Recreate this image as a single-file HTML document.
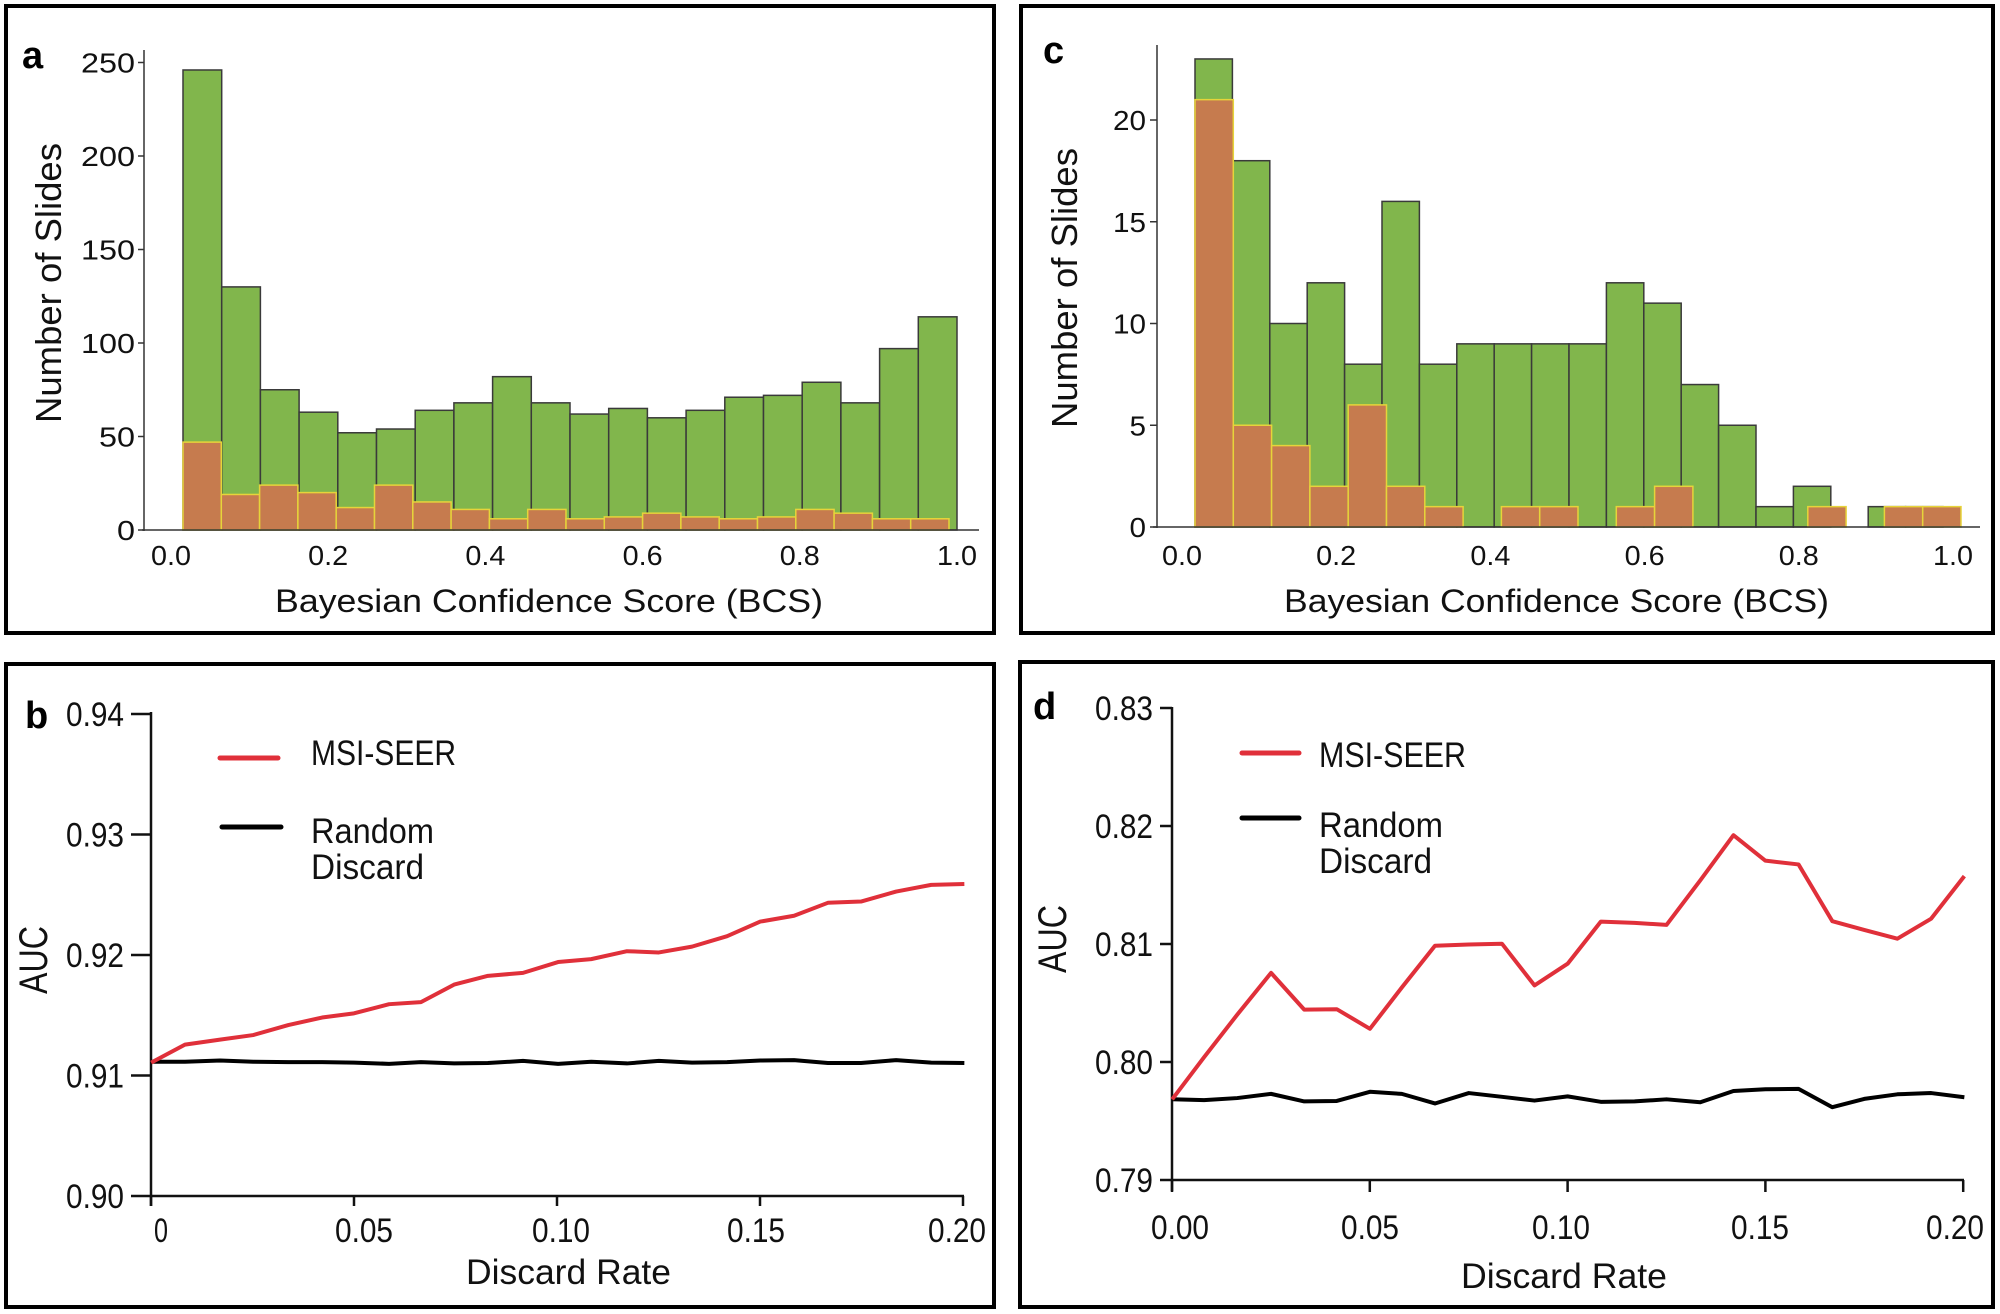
<!DOCTYPE html>
<html><head><meta charset="utf-8">
<style>
html,body{margin:0;padding:0;background:#fff;}
svg{display:block;}
text{font-family:"Liberation Sans",sans-serif;fill:#111;}
</style></head>
<body>
<svg id="s" width="2000" height="1314" viewBox="0 0 2000 1314" xmlns="http://www.w3.org/2000/svg">
<rect width="2000" height="1314" fill="#fff"/>
<!-- panel borders -->
<rect x="6" y="6" width="988" height="627" fill="none" stroke="#000" stroke-width="4"/>
<rect x="1021" y="6" width="972" height="627" fill="none" stroke="#000" stroke-width="4"/>
<rect x="6" y="664" width="988" height="643" fill="none" stroke="#000" stroke-width="4"/>
<rect x="1020" y="662" width="973" height="645" fill="none" stroke="#000" stroke-width="4"/>

<g id="bars"></g>

<!-- Panel a axes -->
<g stroke="#333" stroke-width="1.5">
<line x1="144" y1="50" x2="144" y2="531"/>
<line x1="142" y1="530" x2="979" y2="530"/>
<line x1="1157" y1="45" x2="1157" y2="528"/>
<line x1="1153" y1="527" x2="1980" y2="527"/>
</g>
<g id="atk" stroke="#333" stroke-width="1.5"></g>
<text x="22" y="68" font-size="38" font-weight="bold" style="fill:#000">a</text>
<text x="1043" y="63" font-size="38" font-weight="bold" style="fill:#000">c</text>
<text x="25" y="728" font-size="38" font-weight="bold" style="fill:#000">b</text>
<text x="1033" y="719" font-size="38" font-weight="bold" style="fill:#000">d</text>

<text transform="translate(61,283) rotate(-90)" text-anchor="middle" font-size="36" textLength="280" lengthAdjust="spacingAndGlyphs">Number of Slides</text>
<text transform="translate(1077,288) rotate(-90)" text-anchor="middle" font-size="36" textLength="280" lengthAdjust="spacingAndGlyphs">Number of Slides</text>
<text x="275" y="612" font-size="32" textLength="548" lengthAdjust="spacingAndGlyphs">Bayesian Confidence Score (BCS)</text>
<text x="1284" y="612" font-size="32" textLength="545" lengthAdjust="spacingAndGlyphs">Bayesian Confidence Score (BCS)</text>

<!-- Panel b -->
<g stroke="#111" stroke-width="2.5" fill="none">
<line x1="151" y1="712" x2="151" y2="1206"/>
<line x1="151" y1="1196" x2="964" y2="1196"/>
<line x1="1172" y1="707" x2="1172" y2="1191"/>
<line x1="1172" y1="1180" x2="1964" y2="1180"/>
</g>
<g id="lt" stroke="#111" stroke-width="2.5"></g>
<text transform="translate(47,960) rotate(-90)" text-anchor="middle" font-size="40" textLength="68" lengthAdjust="spacingAndGlyphs">AUC</text>
<text transform="translate(1066,939) rotate(-90)" text-anchor="middle" font-size="40" textLength="68" lengthAdjust="spacingAndGlyphs">AUC</text>
<text x="466" y="1284" font-size="35" textLength="205" lengthAdjust="spacingAndGlyphs">Discard Rate</text>
<text x="1461" y="1288" font-size="35" textLength="206" lengthAdjust="spacingAndGlyphs">Discard Rate</text>

<line x1="220" y1="758" x2="278" y2="758" stroke="#e0303a" stroke-width="5" stroke-linecap="round"/>
<text x="311" y="765" font-size="35" textLength="145" lengthAdjust="spacingAndGlyphs">MSI-SEER</text>
<line x1="222" y1="827" x2="281" y2="827" stroke="#000" stroke-width="5" stroke-linecap="round"/>
<text x="311" y="843" font-size="35" textLength="123" lengthAdjust="spacingAndGlyphs">Random</text>
<text x="311" y="879" font-size="35" textLength="113" lengthAdjust="spacingAndGlyphs">Discard</text>

<line x1="1242" y1="753" x2="1299" y2="753" stroke="#e0303a" stroke-width="5" stroke-linecap="round"/>
<text x="1319" y="767" font-size="35" textLength="147" lengthAdjust="spacingAndGlyphs">MSI-SEER</text>
<line x1="1242" y1="818" x2="1299" y2="818" stroke="#000" stroke-width="5" stroke-linecap="round"/>
<text x="1319" y="837" font-size="35" textLength="124" lengthAdjust="spacingAndGlyphs">Random</text>
<text x="1319" y="873" font-size="35" textLength="113" lengthAdjust="spacingAndGlyphs">Discard</text>

<g transform="translate(0,660) scale(0.6378,0.4172)" fill="none" stroke-linejoin="round">
<polyline vector-effect="non-scaling-stroke" stroke="#000" stroke-width="4" points="237,963 290,963 345,960 397,963 452,964 505,964 555,965 610,968 660,964 712,967 765,966 820,961 875,968 927,963 983,967 1033,961 1085,965 1140,964 1192,960 1245,959 1298,966 1350,966 1405,959 1460,965 1512,966"/>
<polyline vector-effect="non-scaling-stroke" stroke="#e0303a" stroke-width="4" points="237,965 290,922 345,910 397,899 452,875 505,857 555,847 610,825 660,820 712,778 765,757 820,750 875,724 927,717 983,698 1033,701 1085,687 1140,662 1192,627 1245,613 1298,582 1350,579 1405,555 1460,539 1512,537"/>
</g>
<g transform="translate(1000,660) scale(0.6378,0.4172)" fill="none" stroke-linejoin="round">
<polyline vector-effect="non-scaling-stroke" stroke="#000" stroke-width="4" points="270,1053 320,1055 372,1050 425,1040 477,1058 528,1057 580,1035 630,1040 682,1063 735,1038 787,1047 838,1056 890,1046 942,1059 995,1058 1045,1053 1098,1060 1150,1033 1200,1029 1252,1028 1305,1072 1355,1052 1407,1041 1460,1038 1512,1048"/>
<polyline vector-effect="non-scaling-stroke" stroke="#e0303a" stroke-width="4" points="270,1053 320,952 372,850 425,750 477,838 528,837 580,884 630,785 682,685 735,682 787,680 838,780 890,728 942,627 995,630 1045,635 1098,528 1150,420 1200,481 1252,490 1305,626 1355,647 1407,668 1460,620 1512,518"/>
</g>
<g id="labels"></g>
</svg>
<script>
var NS="http://www.w3.org/2000/svg";
function el(p,t,a,txt){var e=document.createElementNS(NS,t);for(var k in a)e.setAttribute(k,a[k]);if(txt!==undefined)e.textContent=txt;document.getElementById(p).appendChild(e);return e;}
function bars(x0,w,base,sc,vals,fill,stroke){vals.forEach(function(v,i){if(!v)return;el("bars","rect",{x:x0+i*w,y:base-v*sc,width:w,height:v*sc,fill:fill,stroke:stroke,"stroke-width":1.5});});}
var ga=[246,130,75,63,52,54,64,68,82,68,62,65,60,64,71,72,79,68,97,114];
var ra=[47,19,24,20,12,24,15,11,6,11,6,7,9,7,6,7,11,9,6,6];
bars(183,38.7,530,1.87,ga,"#81b64c","#3a3a3a");
bars(183,38.3,530,1.87,ra,"#c67b4e","#e6d43a");
var gc=[23,18,10,12,8,16,8,9,9,9,9,12,11,7,5,1,2,0,1,1];
var rc=[21,5,4,2,6,2,1,0,1,1,0,1,2,0,0,0,1,0,1,1];
bars(1195,37.4,527,20.35,gc,"#81b64c","#3a3a3a");
bars(1195,38.3,527,20.35,rc,"#c67b4e","#e6d43a");
function lab(x,y,s,anchor,fs,len){el("labels","text",{x:x,y:y,"font-size":fs,"text-anchor":anchor,textLength:len,lengthAdjust:"spacingAndGlyphs"},s);}
// panel a y ticks
[0,50,100,150,200,250].forEach(function(v){var y=530-v*1.87;el("atk","line",{x1:138,y1:y,x2:144,y2:y});var s=""+v;lab(135,y+10,s,"end",28,s.length*18);});
["0.0","0.2","0.4","0.6","0.8","1.0"].forEach(function(s,i){lab(171+i*157.2,565,s,"middle",28,40);});
// panel c
[0,5,10,15,20].forEach(function(v){var y=527-v*20.35;el("atk","line",{x1:1150,y1:y,x2:1157,y2:y});var s=""+v;lab(1146,y+10,s,"end",28,s.length*16.5);});
["0.0","0.2","0.4","0.6","0.8","1.0"].forEach(function(s,i){lab(1182+i*154.2,565,s,"middle",28,40);});
// panel b
["0.90","0.91","0.92","0.93","0.94"].forEach(function(s,i){var y=1196-i*120.5;el("lt","line",{x1:131,y1:y,x2:151,y2:y});lab(124,y+12,s,"end",34,58);});
[["0",161,14],["0.05",364,58],["0.10",561,58],["0.15",756,58],["0.20",957,58]].forEach(function(a,i){var x=151+i*203;el("lt","line",{x1:x,y1:1196,x2:x,y2:1206});lab(a[1],1242,a[0],"middle",34,a[2]);});
// panel d
["0.79","0.80","0.81","0.82","0.83"].forEach(function(s,i){var y=1180-i*118;el("lt","line",{x1:1160,y1:y,x2:1172,y2:y});lab(1153,y+12,s,"end",34,58);});
[["0.00",1180],["0.05",1370],["0.10",1561],["0.15",1760],["0.20",1955]].forEach(function(a,i){var x=1172+i*197.8;el("lt","line",{x1:x,y1:1180,x2:x,y2:1192});lab(a[1],1239,a[0],"middle",34,58);});
</script>
</body></html>
